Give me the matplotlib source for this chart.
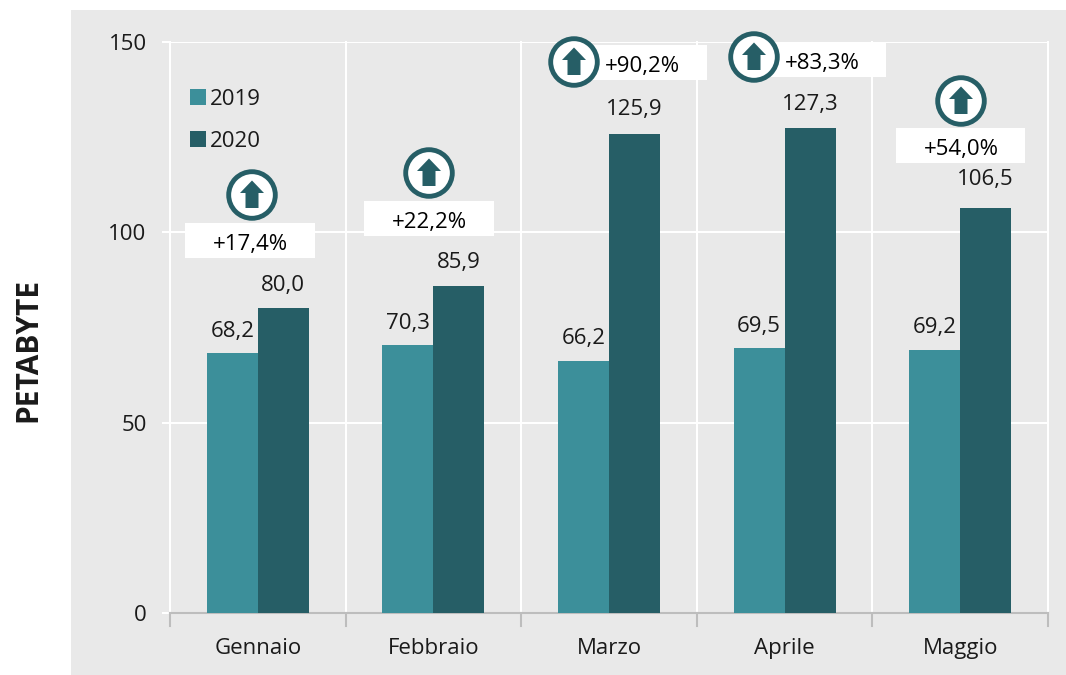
"""Monthly traffic in petabyte, 2019 vs 2020, with growth badges."""

import matplotlib

matplotlib.use("Agg")
import matplotlib.pyplot as plt
import numpy as np
from matplotlib.patches import Circle, Polygon, Rectangle

W, H = 1066, 675

months = ["Gennaio", "Febbraio", "Marzo", "Aprile", "Maggio"]
values_2019 = [68.2, 70.3, 66.2, 69.5, 69.2]
values_2020 = [80.0, 85.9, 125.9, 127.3, 106.5]
growth_labels = ["+17,4%", "+22,2%", "+90,2%", "+83,3%", "+54,0%"]

COL_2019 = "#3c8f9a"
COL_2020 = "#265e66"
PANEL = "#e9e9e9"
TEXT = "#1a1a1a"

# badge placement in pixels
circle_centres = [(252, 195), (429, 173), (574, 62), (754, 57), (961, 101)]
label_boxes = [
    (185, 223, 315, 258),
    (364, 201, 494, 236),
    (590, 45, 707, 80),
    (770, 42, 886, 77),
    (896, 128, 1025, 163),
]
label_centres = [250, 429, 642, 822, 961]
# extra lift of the value labels, in points
lift_2019 = [8.5, 8.5, 8.5, 8.5, 8.5]
lift_2020 = [9, 9.5, 10, 9.5, 12.5]

plt.rcParams["font.family"] = ["Open Sans", "DejaVu Sans"]

fig = plt.figure(figsize=(W / 100, H / 100), dpi=100, facecolor="white")
fig.patches.append(
    Rectangle((71 / W, 0), (W - 71) / W, (H - 10) / H, transform=fig.transFigure,
              facecolor=PANEL, edgecolor="none", zorder=-1)
)

ax = fig.add_axes([170 / W, 1 - 613 / H, (1048 - 170) / W, (613 - 42) / H])
ax.set_facecolor("none")

x = np.arange(len(months))
bar_w = 0.29
bars_a = ax.bar(x - bar_w / 2, values_2019, bar_w, color=COL_2019, label="2019", zorder=3)
bars_b = ax.bar(x + bar_w / 2, values_2020, bar_w, color=COL_2020, label="2020", zorder=3)

for bars, vals, lifts in ((bars_a, values_2019, lift_2019), (bars_b, values_2020, lift_2020)):
    for rect, val, lift in zip(bars, vals, lifts):
        ax.annotate(
            f"{val:.1f}".replace(".", ","),
            (rect.get_x() + rect.get_width() / 2, val),
            xytext=(0, lift), textcoords="offset points",
            ha="center", va="bottom", fontsize=16, color=TEXT, zorder=4,
        )

ax.set_xlim(-0.5, len(months) - 0.5)
ax.set_ylim(0, 150)
ax.set_yticks([0, 50, 100, 150])
ax.set_xticks(x)
ax.set_xticklabels(months)
ax.tick_params(axis="x", length=0, pad=18, labelsize=16, labelcolor=TEXT)
ax.tick_params(axis="y", length=5.8, width=1.5, color="white", pad=11, labelsize=16, labelcolor=TEXT)

ax.grid(axis="y", color="white", linewidth=1.5, zorder=1)
for edge in np.arange(len(months) + 1) - 0.5:
    ax.plot([edge, edge], [0, 150], color="white", linewidth=1.5, zorder=1, clip_on=False)
    ax.plot([edge, edge], [0, -3.5], color="#bdbdbd", linewidth=1.5, zorder=2, clip_on=False)

for side in ("top", "right", "left"):
    ax.spines[side].set_visible(False)
ax.spines["bottom"].set_color("#bdbdbd")
ax.spines["bottom"].set_linewidth(1.5)

ax.set_ylabel("PETABYTE", fontsize=21.5, fontweight="bold", color=TEXT, labelpad=0)
ax.yaxis.set_label_coords((43 - 170) / (1048 - 170), (613 - 350) / (613 - 42))

ax.legend(
    loc="upper left", bbox_to_anchor=(0.0, 0.953), frameon=False, fontsize=16,
    handlelength=0.72, handleheight=0.72, handletextpad=0.18, labelspacing=0.95,
    labelcolor=TEXT,
)

# overlay in pixel coordinates for the growth badges
over = fig.add_axes([0, 0, 1, 1], facecolor="none")
over.set_xlim(0, W)
over.set_ylim(H, 0)
over.axis("off")

for (x0, y0, x1, y1), cx, label in zip(label_boxes, label_centres, growth_labels):
    over.add_patch(Rectangle((x0, y0), x1 - x0, y1 - y0, facecolor="white", edgecolor="none", zorder=2))
    over.text(cx, (y0 + y1) / 2 + 4, label, ha="center", va="center",
              fontsize=16, color="black", zorder=3)

arrow = [(0, -14.5), (12, -2), (6.5, -2), (6.5, 13), (-6.5, 13), (-6.5, -2), (-12, -2)]
for cx, cy in circle_centres:
    over.add_patch(Circle((cx, cy), 23.3, facecolor="white", edgecolor=COL_2020, linewidth=3.5, zorder=4))
    over.add_patch(Polygon([(cx + a, cy + b) for a, b in arrow], facecolor=COL_2020, edgecolor="none", zorder=5))

fig.savefig("out.png", dpi=100)
